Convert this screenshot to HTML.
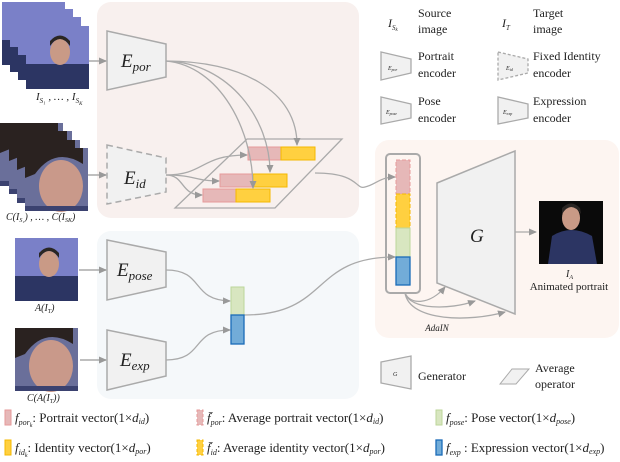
<!DOCTYPE html>
<html><head><meta charset="utf-8"><style>
html,body{margin:0;padding:0;background:#fff}
svg{display:block}
text{font-family:"Liberation Serif",serif;fill:#222}
.it{font-style:italic}
</style></head><body>
<svg width="620" height="462" viewBox="0 0 620 462" xmlns="http://www.w3.org/2000/svg">
<defs>
<marker id="a" markerWidth="8" markerHeight="8" refX="7" refY="4" orient="auto" markerUnits="userSpaceOnUse"><path d="M0,0.5 L8,4 L0,7.5z" fill="#999"/></marker>
<g id="ph1"><rect width="63" height="63" fill="#7a80c8"/><rect x="0" y="38" width="63" height="25" fill="#2c3563"/><ellipse cx="34" cy="26" rx="10" ry="13" fill="#c99a86"/><path d="M24,20 Q34,6 44,20 L44,15 Q34,4 24,15z" fill="#2a2624"/></g>
<g id="ph2"><rect width="63" height="63" fill="#6a6f9a"/><ellipse cx="36" cy="38" rx="22" ry="26" fill="#c9998a"/><path d="M10,26 Q30,-2 58,16 L58,0 L0,0 L0,30z" fill="#2a2220"/><rect x="0" y="58" width="63" height="5" fill="#3b4270"/></g>
</defs>
<rect x="97" y="2" width="262" height="216" rx="14" fill="#f8f0ee"/>
<rect x="97" y="231" width="262" height="168" rx="14" fill="#f5f8fa"/>
<rect x="375" y="140" width="244" height="198" rx="14" fill="#fdf5f1"/>
<use href="#ph1" x="2" y="2"/><use href="#ph1" x="10" y="9"/><use href="#ph1" x="18" y="17"/><use href="#ph1" x="26" y="26"/>
<text x="36" y="100" font-size="11" class="it">I<tspan font-size="7" dy="3">S₁</tspan><tspan dy="-3"> , … , I</tspan><tspan font-size="7" dy="3">S</tspan><tspan font-size="5" dy="2">K</tspan></text>
<use href="#ph2" x="0" y="123"/><use href="#ph2" x="9" y="131"/><use href="#ph2" x="17" y="140"/><use href="#ph2" x="25" y="148"/>
<text x="6" y="220" font-size="10" class="it">C(I<tspan font-size="6" dy="2">S₁</tspan><tspan dy="-2">) , … , C(I</tspan><tspan font-size="6" dy="2">SK</tspan><tspan dy="-2">)</tspan></text>
<use href="#ph1" x="15" y="238"/>
<text x="35" y="311" font-size="10" class="it">A(I<tspan font-size="6" dy="2">T</tspan><tspan dy="-2">)</tspan></text>
<use href="#ph2" x="15" y="328"/>
<text x="27" y="401" font-size="10" class="it">C(A(I<tspan font-size="6" dy="2">T</tspan><tspan dy="-2">))</tspan></text>
<g stroke="#aaa" stroke-width="1.5" fill="#f1f1f1">
<path d="M107,31 L166,44 L166,77 L107,90z"/>
<path d="M107,145 L166,158 L166,192 L107,204z" stroke-dasharray="6,4"/>
<path d="M107,240 L166,252 L166,287 L107,300z"/>
<path d="M107,330 L166,342 L166,376 L107,390z"/>
</g>
<text x="121" y="67" font-size="19" class="it">E<tspan font-size="13" dy="4">por</tspan></text>
<text x="124" y="184" font-size="19" class="it">E<tspan font-size="13" dy="4">id</tspan></text>
<text x="117" y="276" font-size="19" class="it">E<tspan font-size="13" dy="4">pose</tspan></text>
<text x="120" y="366" font-size="19" class="it">E<tspan font-size="13" dy="4">exp</tspan></text>
<g stroke="#aaa" stroke-width="1.5" fill="none" marker-end="url(#a)">
<path d="M89,61 L106,61"/><path d="M88,175 L106,175"/><path d="M79,270 L106,270"/><path d="M80,360 L106,360"/>
</g>
<path d="M175,208 L247,139 L342,139 L275,208z" fill="none" stroke="#aaa" stroke-width="1.3"/>
<g stroke="#e69a9a" stroke-width="1" fill="#e6b8b8">
<rect x="248" y="147" width="33" height="13"/><rect x="220" y="174" width="33" height="13"/><rect x="203" y="189" width="33" height="13"/>
</g>
<g stroke="#f5b800" stroke-width="1" fill="#ffd040">
<rect x="281" y="147" width="34" height="13"/><rect x="253" y="174" width="34" height="13"/><rect x="236" y="189" width="34" height="13"/>
</g>
<g stroke="#aaa" stroke-width="1.3" fill="none" marker-end="url(#a)">
<path d="M166,61 C240,61 297,90 297,145"/>
<path d="M166,61 C230,63 270,120 270,172"/>
<path d="M166,61 C220,66 253,130 253,188"/>
<path d="M166,175 C205,175 200,155 247,155"/>
<path d="M166,175 C195,175 195,181 219,181"/>
<path d="M166,175 C185,175 180,195 202,195"/>
<path d="M315,173 C360,173 355,190 365,187 C375,185 380,177 395,177"/>
<path d="M166,270 C205,270 190,300 230,301"/>
<path d="M166,360 C205,360 190,330 230,330"/>
<path d="M244,315 C330,315 310,257 395,257"/>
<path d="M515,232 L536,232"/>
<path d="M405,293 C410,305 430,305 445,287"/>
<path d="M405,293 C410,310 450,310 475,301"/>
<path d="M405,293 C410,322 470,322 505,312"/>
</g>
<rect x="231" y="287" width="13" height="28" fill="#d8e6c0" stroke="#bcd69a"/>
<rect x="231" y="315" width="13" height="29" fill="#72acd8" stroke="#1a6bb8" stroke-width="1.3"/>
<rect x="386" y="154" width="34" height="139" rx="4" fill="none" stroke="#aaa" stroke-width="2"/>
<rect x="396" y="160" width="14" height="34" fill="#e6b8b8" stroke="#e69a9a" stroke-dasharray="4,2"/>
<rect x="396" y="194" width="14" height="34" fill="#ffd040" stroke="#f5b800" stroke-dasharray="4,2"/>
<rect x="396" y="228" width="14" height="29" fill="#d8e6c0" stroke="#bcd69a"/>
<rect x="396" y="257" width="14" height="28" fill="#72acd8" stroke="#1a6bb8" stroke-width="1.3"/>
<path d="M437,183 L515,151 L515,314 L437,283z" fill="#f1f1f1" stroke="#aaa" stroke-width="1.5"/>
<text x="470" y="242" font-size="19" class="it">G</text>
<rect x="539" y="201" width="64" height="63" fill="#0a0a0a"/>
<path d="M548,264 L552,236 Q571,224 592,236 L597,264z" fill="#2c3563"/>
<ellipse cx="571" cy="218" rx="9" ry="12" fill="#c99a86"/>
<path d="M562,214 Q571,200 581,214 L580,208 Q571,199 562,208z" fill="#2a2624"/>
<text x="566" y="277" font-size="10" class="it">I<tspan font-size="6" dy="2">A</tspan></text>
<text x="569" y="290" font-size="11" text-anchor="middle">Animated portrait</text>
<text x="437" y="331" font-size="9" class="it" text-anchor="middle">AdaIN</text>
<text x="388" y="27" font-size="12" class="it">I<tspan font-size="7" dy="3">S</tspan><tspan font-size="5" dy="1">k</tspan></text>
<text x="418" y="17" font-size="12">Source</text><text x="418" y="33" font-size="12">image</text>
<text x="502" y="27" font-size="12" class="it">I<tspan font-size="7" dy="3">T</tspan></text>
<text x="533" y="17" font-size="12">Target</text><text x="533" y="33" font-size="12">image</text>
<g stroke="#aaa" stroke-width="1.3" fill="#f1f1f1">
<path d="M381,52 L411,59 L411,73 L381,80z"/>
<path d="M498,52 L528,59 L528,73 L498,80z" stroke-dasharray="3,2"/>
<path d="M381,97 L411,104 L411,118 L381,124z"/>
<path d="M498,97 L528,104 L528,118 L498,124z"/>
<path d="M381,362 L411,356 L411,389 L381,383z"/>
</g>
<path d="M500,384 L512,369 L529,369 L516,384z" fill="#f1f1f1" stroke="#aaa"/>
<text x="388" y="70" font-size="6" class="it">E<tspan font-size="4" dy="1">por</tspan></text>
<text x="506" y="70" font-size="6" class="it">E<tspan font-size="4" dy="1">id</tspan></text>
<text x="386" y="114" font-size="6" class="it">E<tspan font-size="4" dy="1">pose</tspan></text>
<text x="503" y="114" font-size="6" class="it">E<tspan font-size="4" dy="1">exp</tspan></text>
<text x="393" y="376" font-size="6" class="it">G</text>
<text x="418" y="60" font-size="12">Portrait</text><text x="418" y="77" font-size="12">encoder</text>
<text x="533" y="60" font-size="12">Fixed Identity</text><text x="533" y="77" font-size="12">encoder</text>
<text x="418" y="105" font-size="12">Pose</text><text x="418" y="122" font-size="12">encoder</text>
<text x="533" y="105" font-size="12">Expression</text><text x="533" y="122" font-size="12">encoder</text>
<text x="418" y="380" font-size="12">Generator</text>
<text x="535" y="372" font-size="12">Average</text><text x="535" y="388" font-size="12">operator</text>
<rect x="5" y="410" width="6" height="15" fill="#e6b8b8" stroke="#e69a9a"/>
<rect x="5" y="440" width="6" height="15" fill="#ffd040" stroke="#f5b800"/>
<rect x="197" y="410" width="6" height="15" fill="#e6b8b8" stroke="#e69a9a" stroke-dasharray="3,2"/>
<rect x="197" y="440" width="6" height="15" fill="#ffd040" stroke="#f5b800" stroke-dasharray="3,2"/>
<rect x="436" y="410" width="6" height="15" fill="#d8e6c0" stroke="#bcd69a"/>
<rect x="436" y="440" width="6" height="15" fill="#72acd8" stroke="#1a6bb8" stroke-width="1.3"/>
<text x="15" y="422" font-size="13"><tspan class="it">f<tspan font-size="8" dy="3">por</tspan><tspan font-size="6" dy="2">k</tspan></tspan><tspan dy="-5">: Portrait vector(1×</tspan><tspan class="it">d<tspan font-size="8" dy="2">id</tspan></tspan><tspan dy="-2">)</tspan></text>
<text x="15" y="452" font-size="13"><tspan class="it">f<tspan font-size="8" dy="3">id</tspan><tspan font-size="6" dy="2">k</tspan></tspan><tspan dy="-5">: Identity vector(1×</tspan><tspan class="it">d<tspan font-size="8" dy="2">por</tspan></tspan><tspan dy="-2">)</tspan></text>
<text x="207" y="422" font-size="13"><tspan class="it">f̄<tspan font-size="8" dy="3">por</tspan></tspan><tspan dy="-3">: Average portrait vector(1×</tspan><tspan class="it">d<tspan font-size="8" dy="2">id</tspan></tspan><tspan dy="-2">)</tspan></text>
<text x="207" y="452" font-size="13"><tspan class="it">f̄<tspan font-size="8" dy="3">id</tspan></tspan><tspan dy="-3">: Average identity vector(1×</tspan><tspan class="it">d<tspan font-size="8" dy="2">por</tspan></tspan><tspan dy="-2">)</tspan></text>
<text x="446" y="422" font-size="13"><tspan class="it">f<tspan font-size="8" dy="3">pose</tspan></tspan><tspan dy="-3">: Pose vector(1×</tspan><tspan class="it">d<tspan font-size="8" dy="2">pose</tspan></tspan><tspan dy="-2">)</tspan></text>
<text x="446" y="452" font-size="13"><tspan class="it">f<tspan font-size="8" dy="3">exp</tspan></tspan><tspan dy="-3"> : Expression vector(1×</tspan><tspan class="it">d<tspan font-size="8" dy="2">exp</tspan></tspan><tspan dy="-2">)</tspan></text>
</svg>
</body></html>
